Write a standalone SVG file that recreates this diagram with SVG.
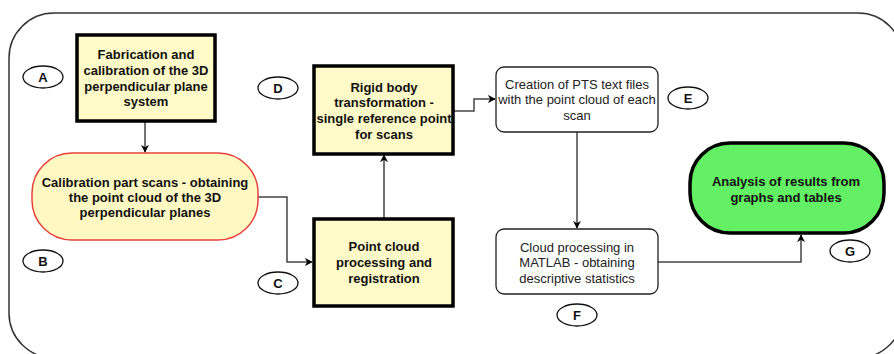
<svg xmlns="http://www.w3.org/2000/svg" width="894" height="354" viewBox="0 0 894 354">
<style>
  .frame{fill:none;stroke:#333;stroke-width:1.5}
  .box{fill:#FFFAC8;stroke:#000;stroke-width:3.5}
  .pillB{fill:#FFF8C2;stroke:#E8413C;stroke-width:1.5}
  .pillG{fill:#64F064;stroke:#000;stroke-width:3.5}
  .plain{fill:#fff;stroke:#222;stroke-width:1.3}
  .tag{fill:#fff;stroke:#111;stroke-width:1.3}
  .b{font-family:"Liberation Sans",Arial,sans-serif;font-size:13px;font-weight:bold;fill:#111;text-anchor:middle}
  .n{font-family:"Liberation Sans",Arial,sans-serif;font-size:13px;fill:#222;text-anchor:middle}
  .conn{fill:none;stroke:#444;stroke-width:1.5}
</style>
<defs>
  <marker id="arr" viewBox="0 0 10 10" refX="9" refY="5" markerWidth="8" markerHeight="8" markerUnits="userSpaceOnUse" orient="auto">
    <path d="M0,0 L10,5 L0,10 L3,5 z" fill="#000"/>
  </marker>
</defs>
<rect class="frame" x="9" y="13" width="894" height="345" rx="45" ry="45"/>

<g id="connectors">
  <path class="conn" d="M145,121 V152" marker-end="url(#arr)"/>
  <path class="conn" d="M258,197 H287 V262 H312" marker-end="url(#arr)"/>
  <path class="conn" d="M384,218 V155" marker-end="url(#arr)"/>
  <path class="conn" d="M453,111 H474 V99 H495" marker-end="url(#arr)"/>
  <path class="conn" d="M577,132 V228" marker-end="url(#arr)"/>
  <path class="conn" d="M658,262 H801 V235" marker-end="url(#arr)"/>
</g>

<g id="nodeA">
  <rect class="box" x="77" y="35" width="138" height="86"/>
  <text class="b" x="146" y="58.5">Fabrication and</text>
  <text class="b" x="146" y="74.5">calibration of the 3D</text>
  <text class="b" x="146" y="90.5">perpendicular plane</text>
  <text class="b" x="146" y="106">system</text>
</g>
<g id="nodeB">
  <rect class="pillB" x="32" y="153" width="226" height="87" rx="40" ry="40"/>
  <text class="b" x="145" y="186.5">Calibration part scans - obtaining</text>
  <text class="b" x="145" y="201.5">the point cloud of the 3D</text>
  <text class="b" x="145" y="217">perpendicular planes</text>
</g>
<g id="nodeC">
  <rect class="box" x="314" y="219" width="139" height="87"/>
  <text class="b" x="384" y="250.5">Point cloud</text>
  <text class="b" x="384" y="266.5">processing and</text>
  <text class="b" x="384" y="282.5">registration</text>
</g>
<g id="nodeD">
  <rect class="box" x="314" y="66" width="139" height="88"/>
  <text class="b" x="384" y="91.5">Rigid body</text>
  <text class="b" x="384" y="107">transformation -</text>
  <text class="b" x="384" y="123">single reference point</text>
  <text class="b" x="384" y="138.5">for scans</text>
</g>
<g id="nodeE">
  <rect class="plain" x="496" y="67" width="162" height="65" rx="8" ry="8"/>
  <text class="n" x="577" y="88.5">Creation of PTS text files</text>
  <text class="n" x="577" y="104">with the point cloud of each</text>
  <text class="n" x="577" y="119.5">scan</text>
</g>
<g id="nodeF">
  <rect class="plain" x="496" y="229" width="162" height="65" rx="8" ry="8"/>
  <text class="n" x="577" y="251.5">Cloud processing in</text>
  <text class="n" x="577" y="267">MATLAB - obtaining</text>
  <text class="n" x="577" y="282.5">descriptive statistics</text>
</g>
<g id="nodeG">
  <rect class="pillG" x="690" y="143" width="194" height="90" rx="40" ry="40"/>
  <text class="b" x="786" y="185.5">Analysis of results from</text>
  <text class="b" x="786" y="201.5">graphs and tables</text>
</g>

<g id="tagA"><ellipse class="tag" cx="43" cy="77" rx="20" ry="11"/><text class="b" x="43" y="81.5">A</text></g>
<g id="tagB"><ellipse class="tag" cx="43" cy="261" rx="20" ry="11"/><text class="b" x="43" y="265.5">B</text></g>
<g id="tagC"><ellipse class="tag" cx="278" cy="283" rx="20" ry="11"/><text class="b" x="278" y="287.5">C</text></g>
<g id="tagD"><ellipse class="tag" cx="278" cy="88" rx="20" ry="11"/><text class="b" x="278" y="92.5">D</text></g>
<g id="tagE"><ellipse class="tag" cx="688" cy="98" rx="20" ry="11"/><text class="b" x="688" y="102.5">E</text></g>
<g id="tagF"><ellipse class="tag" cx="577" cy="315" rx="20" ry="11"/><text class="b" x="577" y="319.5">F</text></g>
<g id="tagG"><ellipse class="tag" cx="850" cy="251" rx="20" ry="11"/><text class="b" x="850" y="255.5">G</text></g>
</svg>
